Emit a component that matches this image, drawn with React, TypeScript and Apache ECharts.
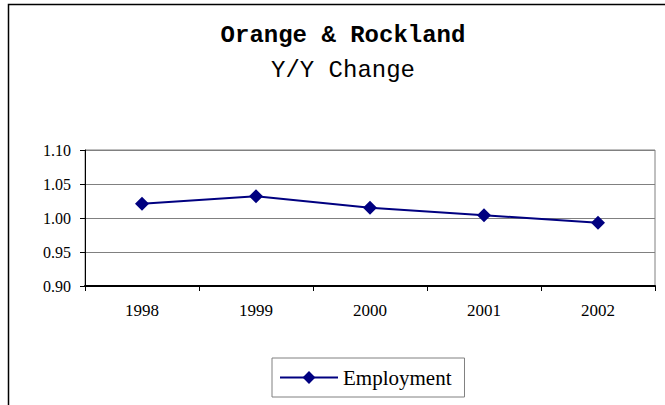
import React, { useEffect, useRef } from "react";
import * as echarts from "echarts";

const years = ["1998", "1999", "2000", "2001", "2002"];
const employment = [1.021, 1.032, 1.015, 1.004, 0.993];
const titleText = "Orange & Rockland";
const subtitleText = "Y/Y Change";
const seriesName = "Employment";

export default function App() {
  const ref = useRef<HTMLDivElement>(null);
  useEffect(() => {
    const chart = echarts.init(ref.current!, null, { renderer: "svg" });
    chart.setOption({
      animation: false,
      backgroundColor: "#ffffff",
      graphic: [
        {
          type: "rect",
          shape: { x: 8.5, y: 4.5, width: 800, height: 600 },
          style: { fill: "none", stroke: "#000", lineWidth: 1.5 },
          z: 100,
        },
        {
          type: "text",
          x: 343,
          y: 35,
          style: {
            text: titleText,
            align: "center",
            verticalAlign: "middle",
            font: "bold 24px 'Liberation Mono'",
            fill: "#000",
          },
        },
        {
          type: "text",
          x: 343,
          y: 70,
          style: {
            text: subtitleText,
            align: "center",
            verticalAlign: "middle",
            font: "normal 24px 'Liberation Mono'",
            fill: "#000",
          },
        },
      ],
      legend: {
        data: [seriesName],
        left: 272,
        top: 358,
        padding: [9, 13, 9, 7],
        borderColor: "#808080",
        borderWidth: 1,
        itemWidth: 58,
        itemHeight: 16,
        itemGap: 0,
        textStyle: { fontFamily: "Liberation Serif", fontSize: 21, color: "#000" },
      },
      grid: { left: 85, right: 10, top: 150, bottom: 119, show: true, borderColor: "#808080", borderWidth: 1 },
      xAxis: {
        type: "category",
        data: years,
        boundaryGap: true,
        axisLine: { lineStyle: { color: "#000", width: 2 } },
        axisTick: { show: true, length: 5, lineStyle: { color: "#000" } },
        axisLabel: { fontFamily: "Liberation Serif", fontSize: 17, color: "#000", margin: 16 },
        splitLine: { show: false },
      },
      yAxis: {
        type: "value",
        min: 0.9,
        max: 1.1,
        interval: 0.05,
        axisLine: { show: true, lineStyle: { color: "#000", width: 1 } },
        axisTick: { show: true, length: 5, lineStyle: { color: "#000" } },
        axisLabel: {
          fontFamily: "Liberation Serif",
          fontSize: 16,
          color: "#000",
          margin: 14,
          formatter: (v: number) => v.toFixed(2),
        },
        splitLine: { show: true, lineStyle: { color: "#808080", width: 1 } },
      },
      series: [
        {
          name: seriesName,
          type: "line",
          data: employment,
          symbol: "diamond",
          symbolSize: 14,
          lineStyle: { color: "#000080", width: 2 },
          itemStyle: { color: "#000080" },
        },
      ],
    });
    return () => chart.dispose();
  }, []);
  return (
    <div
      ref={ref}
      style={{ position: "fixed", left: 0, top: 0, width: 665, height: 405 }}
    />
  );
}
